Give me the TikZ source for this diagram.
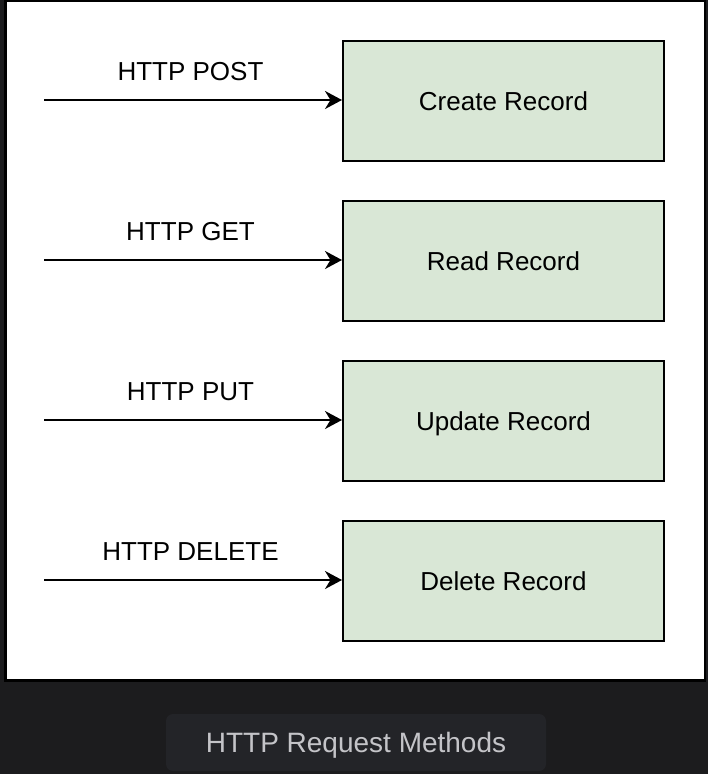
\documentclass[tikz,border=0pt]{standalone}
\usepackage{fontspec}
\setmainfont{Liberation Sans}
\usetikzlibrary{arrows.meta}
\definecolor{darkbg}{HTML}{1C1C1E}
\definecolor{capbg}{HTML}{232428}
\definecolor{captext}{HTML}{C4C4C8}
\definecolor{boxgreen}{HTML}{D9E7D6}
\tikzset{
  recbox/.style={draw=black, line width=2pt, fill=boxgreen, minimum width=321pt, minimum height=120pt, inner sep=0pt,
    font=\fontsize{26}{30}\selectfont, text height=18.6pt, text depth=0pt},
  methlabel/.style={font=\fontsize{26}{30}\selectfont, text height=18.6pt, text depth=0pt, inner sep=0pt},
  reqarrow/.style={line width=2pt, -{Stealth[length=17pt, width=18pt, inset=5.5pt]}},
}
\begin{document}
\begin{tikzpicture}[x=1pt,y=-1pt]
\useasboundingbox (0,0) rectangle (708,774);
\fill[darkbg] (0,0) rectangle (708,774);
\draw[line width=2.5pt, fill=white] (5.5,1.2) rectangle (705,680.5);
% caption
\node[fill=capbg, rounded corners=7pt, minimum width=380pt, minimum height=57pt, inner sep=0pt,
  text=captext, font=\fontsize{28}{32}\selectfont, text height=20pt, text depth=0pt] (cap) at (356,742.5) {HTTP Request Methods};
% boxes
\node[recbox] (create) at (503.5,101) {Create Record};
\node[recbox] (read) at (503.5,261) {Read Record};
\node[recbox] (update) at (503.5,421) {Update Record};
\node[recbox] (delete) at (503.5,581) {Delete Record};
% labels
\node[methlabel] (lpost) at (190.5,71) {HTTP POST};
\node[methlabel] (lget) at (190.5,231) {HTTP GET};
\node[methlabel] (lput) at (190.5,391) {HTTP PUT};
\node[methlabel] (ldel) at (190.5,551) {HTTP DELETE};
% arrow starts
\coordinate (spost) at (44,100);
\coordinate (sget) at (44,260);
\coordinate (sput) at (44,420);
\coordinate (sdel) at (44,580);
\draw[reqarrow] (spost) -- (spost -| create.west);
\draw[reqarrow] (sget) -- (sget -| read.west);
\draw[reqarrow] (sput) -- (sput -| update.west);
\draw[reqarrow] (sdel) -- (sdel -| delete.west);
\end{tikzpicture}
\end{document}
